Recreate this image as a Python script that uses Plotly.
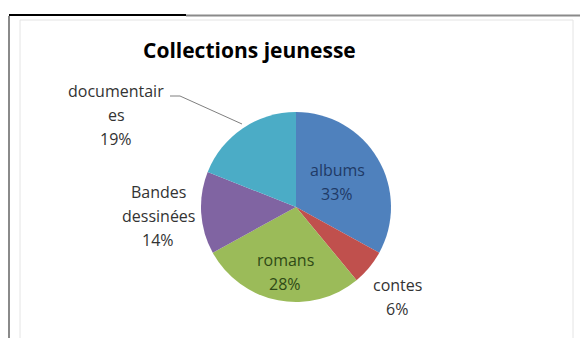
import plotly.graph_objects as go

# ---- data ----
categories = ["albums", "contes", "romans", "Bandes dessinées", "documentaires"]
values = [33, 6, 28, 14, 19]
colors = ["#4F81BD", "#C0504D", "#9BBB59", "#8064A2", "#4BACC6"]
label_lines = [["albums"], ["contes"], ["romans"], ["Bandes", "dessinées"], ["documentair", "es"]]
title_text = "Collections jeunesse"

W, H = 580, 338

def px(x):
    return x / W

def py(y):
    return 1 - y / H

# pie geometry (pixels)
cx, cy, r = 296, 207, 95

fig = go.Figure()
fig.add_trace(go.Pie(
    labels=categories,
    values=values,
    sort=False,
    direction="clockwise",
    rotation=0,
    marker=dict(colors=colors, line=dict(width=0)),
    textinfo="none",
    hoverinfo="label+percent",
    showlegend=False,
    domain=dict(x=[px(cx - r), px(cx + r)], y=[py(cy + r), py(cy - r)]),
))

# label positions (pixel centers of first line) and colours
label_pos = [(337, 170), (397, 285), (285, 260), (158, 192), (116, 91)]
label_colors = ["#1F3A66", "#333333", "#2F4A16", "#333333", "#333333"]
line_gap = 24

annotations = []
for lines, v, (lx, ly), col in zip(label_lines, values, label_pos, label_colors):
    all_lines = lines + [f"{v}%"]
    for i, t in enumerate(all_lines):
        annotations.append(dict(
            x=px(lx), y=py(ly + i * line_gap), xref="paper", yref="paper",
            text=t, showarrow=False, xanchor="center", yanchor="middle",
            font=dict(family="Open Sans", size=16, color=col),
        ))

annotations.append(dict(
    x=px(249), y=py(50), xref="paper", yref="paper",
    text=f"<b>{title_text}</b>", showarrow=False, xanchor="center", yanchor="middle",
    font=dict(family="Open Sans", size=21, color="#000000"),
))

shapes = [
    # chart area faint border
    dict(type="rect", xref="paper", yref="paper",
         x0=px(20), x1=px(573), y0=py(345), y1=py(20),
         line=dict(color="#E4E4E4", width=1), fillcolor="rgba(0,0,0,0)", layer="below"),
    # outer left border
    dict(type="line", xref="paper", yref="paper",
         x0=px(9), x1=px(9), y0=py(16), y1=py(340),
         line=dict(color="#8A8A8A", width=2)),
    # top gray line
    dict(type="line", xref="paper", yref="paper",
         x0=px(186), x1=px(580), y0=py(15.5), y1=py(15.5),
         line=dict(color="#8A8A8A", width=2)),
    # top black line
    dict(type="line", xref="paper", yref="paper",
         x0=px(9), x1=px(186), y0=py(15), y1=py(15),
         line=dict(color="#000000", width=2)),
    # leader line for documentaires
    dict(type="path", xref="paper", yref="paper",
         path=f"M {px(170)},{py(96)} L {px(180)},{py(96)} L {px(242)},{py(124)}",
         line=dict(color="#7F7F7F", width=1)),
]

fig.update_layout(
    width=W, height=H,
    margin=dict(l=0, r=0, t=0, b=0),
    paper_bgcolor="white",
    plot_bgcolor="white",
    annotations=annotations,
    shapes=shapes,
)

fig.write_html("out.html")
